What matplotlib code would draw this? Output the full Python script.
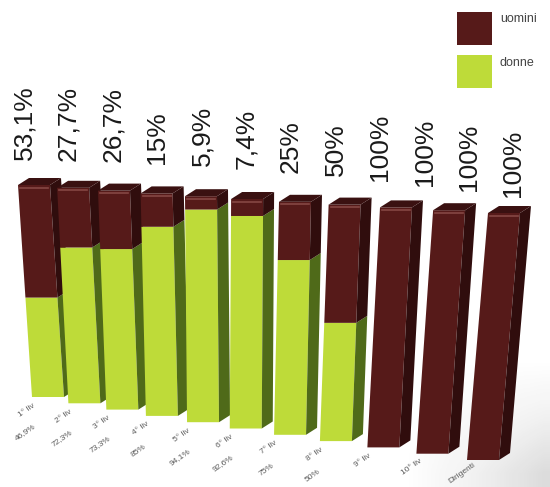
import numpy as np
import matplotlib.pyplot as plt
from matplotlib.patches import Polygon, Rectangle

plt.rcParams["font.family"] = ["Liberation Sans", "DejaVu Sans"]

# data
categories = ["1° liv", "2° liv", "3° liv", "4° liv", "5° liv", "6° liv",
              "7° liv", "8° liv", "9° liv", "10° liv", "Dirigenti"]
donne = [46.9, 72.3, 73.3, 85, 94.1, 92.6, 75, 50, 0, 0, 0]
uomini = [53.1, 27.7, 26.7, 15, 5.9, 7.4, 25, 50, 100, 100, 100]
donne_labels = ["46,9%", "72,3%", "73,3%", "85%", "94,1%", "92,6%", "75%", "50%"]
top_labels = ["53,1%", "27,7%", "26,7%", "15%", "5,9%", "7,4%", "25%", "50%",
              "100%", "100%", "100%", "100%"]

C_UOM = "#561a19"
C_UOM_SIDE = "#300d0d"
C_UOM_TOP = "#3a1111"
C_DON = "#bedb39"
C_DON_SIDE = "#4f6a19"

fig = plt.figure(figsize=(5.5, 4.87), dpi=100)
ax = fig.add_axes([0, 0, 1, 1])
ax.set_xlim(0, 550)
ax.set_ylim(487, 0)
ax.axis("off")

# soft shadow on the floor, lower right
gx, gy = np.meshgrid(np.linspace(0, 1, 200), np.linspace(0, 1, 200))
shade = np.clip((gx - 0.35) * 1.6, 0, 1) * np.clip((gy - 0.2) * 1.4, 0, 1)
ax.imshow(shade, extent=(330, 550, 487, 330), cmap="Greys", vmin=0, vmax=4,
          alpha=0.9, zorder=0, interpolation="bilinear")


# perspective projection of bar i at height pct (0-100) -> front-left corner
def proj(i, pct):
    x_top = 18 + 38.25 * i + 0.875 * i ** 2
    x_bot = 32 + 35.6 * i + 0.79 * i ** 2
    y_top = 185 + 2.8 * i
    y_bot = 397 + 6.3 * i
    f = pct / 100.0
    return x_bot + (x_top - x_bot) * f, y_bot + (y_top - y_bot) * f


W, DX, DY = 32, 11, 7


def face(ax, i, p0, p1, c_front, c_side):
    xa, ya = proj(i, p0)
    xb, yb = proj(i, p1)
    ax.add_patch(Polygon([(xa, ya), (xa + W, ya), (xb + W, yb), (xb, yb)],
                         closed=True, fc=c_front, ec="none", zorder=2))
    ax.add_patch(Polygon([(xa + W, ya), (xa + W + DX, ya - DY),
                          (xb + W + DX, yb - DY), (xb + W, yb)],
                         closed=True, fc=c_side, ec="none", zorder=2))


for i in range(len(categories)):
    d = donne[i]
    u = uomini[i]
    if d > 0:
        face(ax, i, 0, d, C_DON, C_DON_SIDE)
    face(ax, i, d, d + u, C_UOM, C_UOM_SIDE)
    xt, yt = proj(i, 100)
    ax.add_patch(Polygon([(xt, yt), (xt + W, yt), (xt + W + DX, yt - DY),
                          (xt + DX, yt - DY)], closed=True, fc=C_UOM_TOP,
                         ec="none", zorder=2))
    ax.plot([xt + 2, xt + W - 2], [yt + 2.5, yt + 2.5], color="#9a5a56",
            lw=1.2, alpha=0.7, zorder=3)

    # category and percentage labels under the bars
    xb, yb = proj(i, 0)
    ax.text(xb - 5, yb + 13, categories[i], rotation=35, fontsize=6,
            color="#5a5a5a", ha="center", va="center")
    if i < len(donne_labels):
        ax.text(xb - 7, yb + 35, donne_labels[i], rotation=35, fontsize=6,
                color="#5a5a5a", ha="center", va="center")

# men percentages above the bars
for j, lab in enumerate(top_labels):
    x = 24 + 44.5 * j
    y = 160 + 0.25 * j ** 2 + 0.6 * j
    ax.text(x, y, lab, rotation=90, fontsize=19, color="#1a1a1a",
            ha="center", va="bottom", zorder=4)

# legend
ax.add_patch(Rectangle((457, 12), 35, 33, fc=C_UOM, ec="none"))
ax.add_patch(Rectangle((457, 55), 35, 33, fc=C_DON, ec="none"))
ax.text(500, 19, "uomini", fontsize=9, color="#444444", va="center")
ax.text(500, 63, "donne", fontsize=9, color="#444444", va="center")

fig.savefig("out.png", dpi=100)
